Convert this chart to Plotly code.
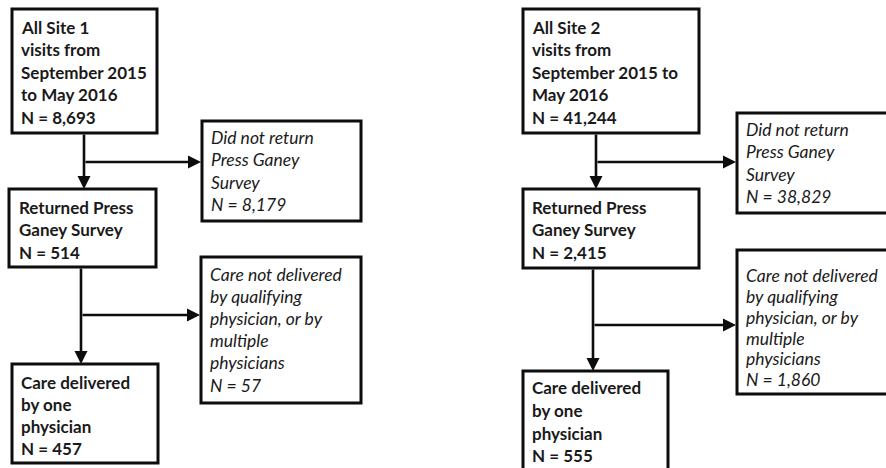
import plotly.graph_objects as go

# ---- data ----
sites = ["Site 1", "Site 2"]
all_visits = [8693, 41244]
not_returned = [8179, 38829]
returned = [514, 2415]
excluded = [57, 1860]
one_physician = [457, 555]

# ---- text per box (wrapped as in the reference) ----
def fmt(n):
    return f"N = {n:,}"

texts = {
    0: {
        "all": ["All Site 1", "visits from", "September 2015", "to May 2016", fmt(all_visits[0])],
        "nr": ["Did not return", "Press Ganey", "Survey", fmt(not_returned[0])],
        "ret": ["Returned Press", "Ganey Survey", fmt(returned[0])],
        "exc": ["Care not delivered", "by qualifying", "physician, or by", "multiple", "physicians", fmt(excluded[0])],
        "one": ["Care delivered", "by one", "physician", fmt(one_physician[0])],
    },
    1: {
        "all": ["All Site 2", "visits from", "September 2015 to", "May 2016", fmt(all_visits[1])],
        "nr": ["Did not return", "Press Ganey", "Survey", fmt(not_returned[1])],
        "ret": ["Returned Press", "Ganey Survey", fmt(returned[1])],
        "exc": ["Care not delivered", "by qualifying", "physician, or by", "multiple", "physicians", fmt(excluded[1])],
        "one": ["Care delivered", "by one", "physician", fmt(one_physician[1])],
    },
}

# ---- layout geometry (pixels) ----
geom = {
    0: {
        "all": dict(box=(12, 9, 157, 133), tx=21, ty=[27, 49.5, 72, 94.5, 117]),
        "nr": dict(box=(202, 121, 361, 221), tx=211, ty=[137, 159.5, 182, 204.5]),
        "ret": dict(box=(9, 189, 156, 267), tx=19, ty=[207, 229.5, 252]),
        "exc": dict(box=(201, 257, 361, 403), tx=210, ty=[274, 296, 318, 340, 362, 385]),
        "one": dict(box=(12, 364, 158, 463), tx=21, ty=[382, 404, 426, 448]),
        "v1": (84, 133, 189), "h1": (84, 162, 201),
        "v2": (81, 267, 364), "h2": (81, 315, 200),
    },
    1: {
        "all": dict(box=(523, 9, 699, 133), tx=532, ty=[27, 49.5, 72, 94.5, 117]),
        "nr": dict(box=(737, 113, 900, 213), tx=746, ty=[129, 151.5, 174, 196.5]),
        "ret": dict(box=(523, 189, 699, 268), tx=532, ty=[207, 229.5, 252]),
        "exc": dict(box=(737, 250, 900, 394), tx=746, ty=[275, 296, 317, 338, 358, 379]),
        "one": dict(box=(523, 371, 668, 480), tx=532, ty=[387, 410, 433, 455]),
        "v1": (596, 133, 189), "h1": (596, 162, 736),
        "v2": (593, 268, 371), "h2": (593, 325, 736),
    },
}

FONT = "Lato"
shapes = []
annotations = []
for p in (0, 1):
    g = geom[p]
    t = texts[p]
    for key in ["all", "nr", "ret", "exc", "one"]:
        x0, y0, x1, y1 = g[key]["box"]
        shapes.append(dict(type="rect", xref="x", yref="y", x0=x0, y0=y0, x1=x1, y1=y1,
                           line=dict(color="#0d0d0d", width=3), fillcolor="rgba(0,0,0,0)"))
        italic = key in ("nr", "exc")
        for line, yy in zip(t[key], g[key]["ty"]):
            txt = f"<i>{line}</i>" if italic else f"<b>{line}</b>"
            annotations.append(dict(x=g[key]["tx"], y=yy, xref="x", yref="y", text=txt,
                                    showarrow=False, xanchor="left", yanchor="middle",
                                    xshift=-2,
                                    font=dict(family=FONT, size=17.5 if italic else 17, color="#1a1a1a")))
    # arrows
    for vk, hk in (("v1", "h1"), ("v2", "h2")):
        vx, vy0, vy1 = g[vk]
        annotations.append(dict(x=vx, y=vy1, ax=vx, ay=vy0, xref="x", yref="y", axref="x", ayref="y",
                                text="", showarrow=True, arrowhead=2, arrowsize=1.0, arrowwidth=2.6,
                                arrowcolor="#0d0d0d", standoff=0))
        hx0, hy, hx1 = g[hk]
        annotations.append(dict(x=hx1, y=hy, ax=hx0, ay=hy, xref="x", yref="y", axref="x", ayref="y",
                                text="", showarrow=True, arrowhead=2, arrowsize=1.0, arrowwidth=2.6,
                                arrowcolor="#0d0d0d", standoff=0))

fig = go.Figure()
fig.update_layout(
    width=886, height=468,
    margin=dict(l=0, r=0, t=0, b=0),
    paper_bgcolor="white", plot_bgcolor="white",
    xaxis=dict(range=[0, 886], visible=False, fixedrange=True),
    yaxis=dict(range=[468, 0], visible=False, fixedrange=True),
    shapes=shapes, annotations=annotations, showlegend=False,
)
fig.write_html("out.html", config={"displayModeBar": False},
               post_script="document.body.style.margin='0';document.body.style.overflow='hidden';")
